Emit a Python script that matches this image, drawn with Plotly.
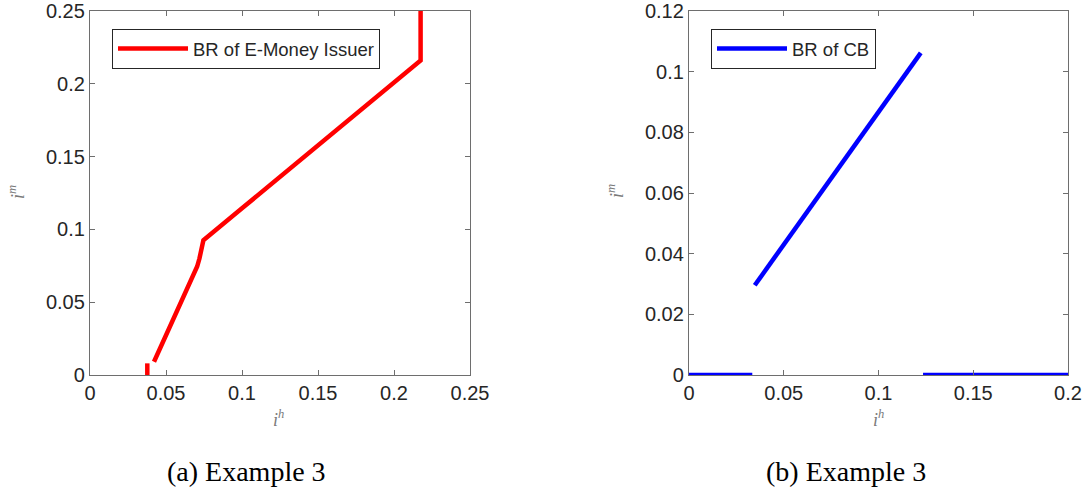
import plotly.graph_objects as go

# Panel (a): best response of E-money issuer
em_stub_x = [0.0377, 0.0377]
em_stub_y = [0.0, 0.008]
em_x = [0.0421, 0.050, 0.057, 0.0615, 0.0658, 0.0685, 0.0705, 0.0720, 0.0732, 0.0741, 0.0746, 0.100, 0.120, 0.138, 0.160, 0.190, 0.2175, 0.2175]
em_y = [0.0091, 0.027, 0.0446, 0.0540, 0.0629, 0.0690, 0.0745, 0.0800, 0.0858, 0.0905, 0.0926, 0.1145, 0.1318, 0.1480, 0.1665, 0.1925, 0.2160, 0.2500]

# Panel (b): best response of CB
cb_low_x = [0.0, 0.0334]
cb_low_y = [0.0, 0.0]
cb_mid_x = [0.0347, 0.1223]
cb_mid_y = [0.0296, 0.1062]
cb_high_x = [0.1235, 0.2]
cb_high_y = [0.0, 0.0]

ticks_a_x = [0, 0.05, 0.1, 0.15, 0.2, 0.25]
ticks_a_y = [0, 0.05, 0.1, 0.15, 0.2, 0.25]
ticks_b_x = [0, 0.05, 0.1, 0.15, 0.2]
ticks_b_y = [0, 0.02, 0.04, 0.06, 0.08, 0.1, 0.12]

RED = "#FF0000"
BLUE = "#0000FF"
LW = 4.5
W, H = 1088, 494

fig = go.Figure()
fig.add_trace(go.Scatter(x=em_stub_x, y=em_stub_y, mode="lines", line=dict(color=RED, width=LW),
                         showlegend=False, xaxis="x", yaxis="y"))
fig.add_trace(go.Scatter(x=em_x, y=em_y, mode="lines", line=dict(color=RED, width=LW),
                         name="BR of E-Money Issuer", legend="legend", xaxis="x", yaxis="y"))
fig.add_trace(go.Scatter(x=cb_low_x, y=cb_low_y, mode="lines", line=dict(color=BLUE, width=LW),
                         name="BR of CB", legend="legend2", xaxis="x2", yaxis="y2"))
fig.add_trace(go.Scatter(x=cb_mid_x, y=cb_mid_y, mode="lines", line=dict(color=BLUE, width=LW),
                         showlegend=False, xaxis="x2", yaxis="y2"))
fig.add_trace(go.Scatter(x=cb_high_x, y=cb_high_y, mode="lines", line=dict(color=BLUE, width=LW),
                         showlegend=False, xaxis="x2", yaxis="y2"))

def px_x(p):
    return p / W

def px_y(p):
    return 1 - p / H

axis_common = dict(showgrid=False, zeroline=False, showline=True, linecolor="#6e6e6e", linewidth=1.3,
                   mirror="ticks", ticks="inside", ticklen=5, tickcolor="#6e6e6e", automargin=False,
                   ticklabeloverflow="allow",
                   tickfont=dict(family="Liberation Sans, Arial", size=20, color="#262626"))

legend_common = dict(xanchor="left", yanchor="top", bordercolor="#262626", borderwidth=1,
                     bgcolor="white", itemwidth=70, tracegroupgap=0,
                     font=dict(family="Liberation Sans, Arial", size=18.5, color="#262626"))

fig.update_layout(
    width=W, height=H,
    margin=dict(l=0, r=0, t=0, b=0, autoexpand=False),
    paper_bgcolor="white", plot_bgcolor="white",
    xaxis=dict(domain=[px_x(90), px_x(470)], range=[0, 0.25], tickvals=ticks_a_x,
               ticktext=[f"{v:g}" for v in ticks_a_x], anchor="y", **axis_common),
    yaxis=dict(domain=[px_y(375), px_y(11)], range=[0, 0.25], tickvals=ticks_a_y,
               ticktext=[f"{v:g}" for v in ticks_a_y], anchor="x", **axis_common),
    xaxis2=dict(domain=[px_x(689), px_x(1068)], range=[0, 0.2], tickvals=ticks_b_x,
                ticktext=[f"{v:g}" for v in ticks_b_x], anchor="y2", **axis_common),
    yaxis2=dict(domain=[px_y(375), px_y(11)], range=[0, 0.12], tickvals=ticks_b_y,
                ticktext=[f"{v:g}" for v in ticks_b_y], anchor="x2", **axis_common),
    legend=dict(x=px_x(112), y=px_y(29), **legend_common),
    legend2=dict(x=px_x(711), y=px_y(29), **legend_common),
)

label_font = dict(family="Liberation Serif, DejaVu Serif", size=18, color="#7a7a7a")
cap_font = dict(family="Liberation Serif, DejaVu Serif", size=28, color="#000000")
annos = [
    dict(text="<i>i</i><sup><i>h</i></sup>", x=px_x(278), y=px_y(418), font=label_font),
    dict(text="<i>i</i><sup><i>h</i></sup>", x=px_x(878), y=px_y(418), font=label_font),
    dict(text="<i>i</i><sup><i>m</i></sup>", x=px_x(16), y=px_y(192), font=label_font, textangle=-90),
    dict(text="<i>i</i><sup><i>m</i></sup>", x=px_x(615), y=px_y(191), font=label_font, textangle=-90),
    dict(text="(a) Example 3", x=px_x(246), y=px_y(471), font=cap_font),
    dict(text="(b) Example 3", x=px_x(846), y=px_y(471), font=cap_font),
]
for a in annos:
    fig.add_annotation(xref="paper", yref="paper", showarrow=False, xanchor="center", yanchor="middle", **a)

fig.write_html("out.html", config={"displayModeBar": False},
               post_script="document.body.style.margin='0';document.body.style.overflow='hidden';")
